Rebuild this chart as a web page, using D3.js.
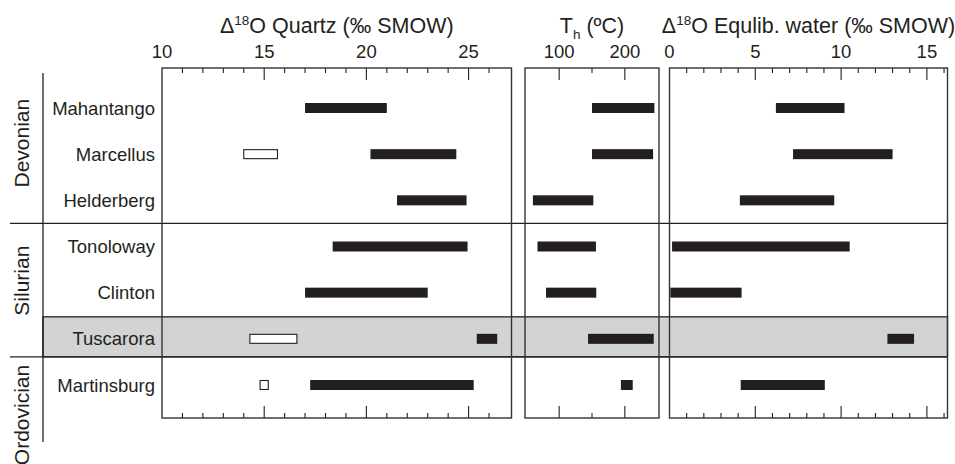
<!DOCTYPE html>
<html>
<head>
<meta charset="utf-8" />
<title>Quartz veins</title>
<script src="https://d3js.org/d3.v7.min.js"></script>
<style>
  body { margin: 0; background: #fff; }
  text { font-family: "Liberation Sans", Arial, sans-serif; fill: #231f20; }
</style>
</head>
<body>
<div id="chart"></div>
<script>
// formations, top to bottom
var formations = ["Mahantango", "Marcellus", "Helderberg", "Tonoloway", "Clinton", "Tuscarora", "Martinsburg"];
var eras = ["Devonian", "Silurian", "Ordovician"];
var eraFirst = ["Mahantango", "Tonoloway", "Martinsburg"];
var eraLast = ["Helderberg", "Tuscarora", "Martinsburg"];
var highlighted = "Tuscarora";

// d18O quartz (per mil SMOW), filled ranges
var quartzMin = [17.0, 20.2, 21.5, 18.35, 17.0, 25.4, 17.25];
var quartzMax = [21.0, 24.4, 24.9, 24.95, 23.0, 26.4, 25.25];
// open boxes (null = none)
var quartzOpenMin = [null, 14.0, null, null, null, 14.3, 14.8];
var quartzOpenMax = [null, 15.65, null, null, null, 16.6, 15.2];

// homogenisation temperature (C)
var thMin = [150, 150, 60, 67, 80, 144, 194];
var thMax = [245, 243, 152, 156, 156.5, 244, 212];

// d18O equilibrium water (per mil SMOW)
var waterMin = [6.2, 7.2, 4.1, 0.15, 0.05, 12.7, 4.15];
var waterMax = [10.2, 13.0, 9.6, 10.5, 4.2, 14.25, 9.05];

var width = 955, height = 464;
var yTop = 68, yBottom = 418;
var ink = "#231f20";

var svg = d3.select("#chart").append("svg").attr("width", width).attr("height", height);

var y = d3.scalePoint().domain(formations).range([108, 385]);
var step = y.step();

var panels = [
  {title: ["\u0394", "18", "O Quartz (\u2030 SMOW)"], sub: false, domain: [10, 27.1], range: [162, 511.5], major: [10, 15, 20, 25], minor: 1,
   lo: quartzMin, hi: quartzMax, openLo: quartzOpenMin, openHi: quartzOpenMax},
  {title: ["T", "h", " (\u00baC)"], sub: true, domain: [48, 252], range: [525, 659], major: [100, 200], minor: 50,
   lo: thMin, hi: thMax},
  {title: ["\u0394", "18", "O Equlib. water (\u2030 SMOW)"], sub: false, domain: [0, 16.2], range: [669.5, 947.5], major: [0, 5, 10, 15], minor: 1,
   lo: waterMin, hi: waterMax}
];

// grey band behind the highlighted formation
var bandTop = y(highlighted) - 22, bandBottom = y(highlighted) + 18;
svg.append("rect")
  .attr("x", 43).attr("width", 947.5 - 43)
  .attr("y", bandTop).attr("height", bandBottom - bandTop)
  .style("fill", "#d1d3d4")
  .style("stroke", ink).style("stroke-width", 1.3);

// era dividers (full width)
eraLast.slice(0, 2).forEach(function(name) {
  var yy = name === highlighted ? bandBottom : y(name) + step / 2;
  svg.append("line")
    .attr("x1", 10).attr("x2", 947.5).attr("y1", yy).attr("y2", yy)
    .style("stroke", ink).style("stroke-width", 1.3);
});

svg.append("line")
  .attr("x1", 43).attr("x2", 43).attr("y1", yTop + 5).attr("y2", yBottom + 24)
  .style("stroke", ink).style("stroke-width", 1.3);

// era labels
var eraOffset = [-11, -12, 30];
eras.forEach(function(era, i) {
  var cy = (y(eraFirst[i]) + y(eraLast[i])) / 2 + eraOffset[i];
  svg.append("text")
    .attr("transform", "translate(29," + cy + ") rotate(-90)")
    .attr("text-anchor", "middle")
    .style("font-size", "21px")
    .text(era);
});

// formation labels
svg.selectAll(".fm").data(formations).enter().append("text")
  .attr("class", "fm")
  .attr("x", 155).attr("y", function(d) { return y(d) + 6.5; })
  .attr("text-anchor", "end")
  .style("font-size", "18.5px")
  .text(function(d) { return d; });

panels.forEach(function(p) {
  var x = d3.scaleLinear().domain(p.domain).range(p.range);
  var g = svg.append("g");

  // title
  var t = g.append("text")
    .attr("x", (p.range[0] + p.range[1]) / 2).attr("y", 33)
    .attr("text-anchor", "middle")
    .style("font-size", "21.5px");
  t.append("tspan").text(p.title[0]);
  t.append("tspan").attr("dy", p.sub ? 6 : -8).style("font-size", "13.5px").text(p.title[1]);
  t.append("tspan").attr("dy", p.sub ? -6 : 8).text(p.title[2]);

  // tick labels
  g.selectAll(".lab").data(p.major).enter().append("text")
    .attr("x", function(d) { return x(d); }).attr("y", 58)
    .attr("text-anchor", "middle")
    .style("font-size", "18.5px")
    .text(function(d) { return d; });

  // ticks, top and bottom
  var minor = d3.range(Math.ceil(p.domain[0] / p.minor) * p.minor, p.domain[1], p.minor)
    .filter(function(d) { return x(d) - p.range[0] > 3 && p.range[1] - x(d) > 3; });
  [yTop, yBottom].forEach(function(edge, k) {
    var dir = k === 0 ? 1 : -1;
    g.selectAll(".tk" + k).data(minor).enter().append("line")
      .attr("x1", function(d) { return x(d); }).attr("x2", function(d) { return x(d); })
      .attr("y1", edge)
      .attr("y2", function(d) { return edge + dir * (p.major.indexOf(d) >= 0 ? 12 : 5); })
      .style("stroke", ink).style("stroke-width", 1.1);
  });

  // frame
  g.append("rect")
    .attr("x", p.range[0]).attr("y", yTop)
    .attr("width", p.range[1] - p.range[0]).attr("height", yBottom - yTop)
    .style("fill", "none").style("stroke", "#333").style("stroke-width", 1.4);

  // filled bars
  g.selectAll(".bar").data(formations).enter().append("rect")
    .attr("x", function(d, i) { return x(p.lo[i]); })
    .attr("width", function(d, i) { return x(p.hi[i]) - x(p.lo[i]); })
    .attr("y", function(d) { return y(d) - 5; }).attr("height", 10)
    .style("fill", ink);

  // open boxes
  if (p.openLo) {
    var open = formations.filter(function(d, i) { return p.openLo[i] !== null; });
    g.selectAll(".open").data(open).enter().append("rect")
      .attr("x", function(d) { return x(p.openLo[formations.indexOf(d)]); })
      .attr("width", function(d) { var i = formations.indexOf(d); return x(p.openHi[i]) - x(p.openLo[i]); })
      .attr("y", function(d) { return y(d) - 4.5; }).attr("height", 9)
      .style("fill", "#fff").style("stroke", ink).style("stroke-width", 1.1);
  }
});
</script>
</body>
</html>
